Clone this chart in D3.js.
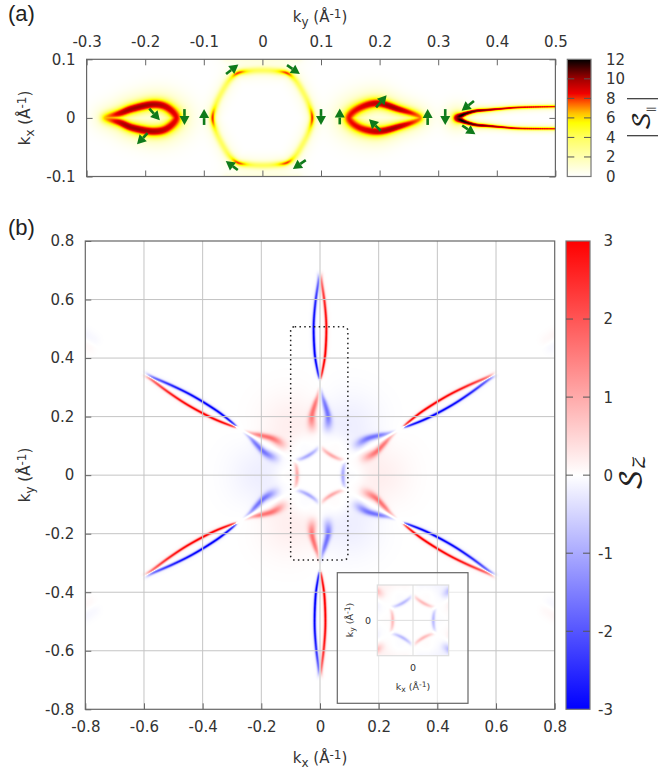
<!DOCTYPE html>
<html>
<head>
<meta charset="utf-8">
<script src="https://cdn.jsdelivr.net/npm/d3@7"></script>
<style>
  html, body { margin: 0; padding: 0; background: #fff; }
  svg { display: block; }
  text { font-family: "DejaVu Sans", sans-serif; font-size: 15px; fill: #333; }
  image { filter: blur(0.5px); }
  .panel { font-family: "Liberation Sans", sans-serif; font-size: 22px; fill: #222; }
  .axis path, .axis line { stroke: #666; }
  .axis text { font-size: 15px; fill: #333; }
  .axis .domain { stroke: none; }
</style>
</head>
<body>
<svg id="chart" width="658" height="772"></svg>
<script>
// tick labels
var aKyTicks = [-0.3, -0.2, -0.1, 0, 0.1, 0.2, 0.3, 0.4, 0.5];
var aKxTicks = [-0.1, 0, 0.1];
var aBarTicks = [0, 2, 4, 6, 8, 10, 12];
var bTicks = [-0.8, -0.6, -0.4, -0.2, 0, 0.2, 0.4, 0.6, 0.8];
var bBarTicks = [-3, -2, -1, 0, 1, 2, 3];

// colour bars
var aStops = [0, 2, 4, 5.5, 6.5, 7.5, 8.5, 10, 11, 12];
var aColors = ["#ffffff", "#ffffb0", "#ffff60", "#ffff00", "#ffc000", "#ff6000", "#f00000", "#a00000", "#500000", "#000000"];
var bStops = [-3, 0, 3];
var bColors = ["#0000ff", "#ffffff", "#ff0000"];

// (a) ridges of |S|: [ky, kx, value, width]
var aLoopLeft = [[-0.268, 0, 6.5, .006], [-0.243, .008, 9.2, .0065], [-0.221, .016, 10, .0068], [-0.187, .023, 9.8, .0072], [-0.163, .018, 9.2, .0078], [-0.147, 0, 8.6, .0085],
  [-0.163, -.018, 9.2, .0078], [-0.187, -.023, 9.8, .0072], [-0.221, -.017, 10, .0068], [-0.243, -.008, 9.4, .0065]];
var aLoopRight = [[.148, 0, 8.4, .0085], [.164, .016, 8.7, .008], [.195, .025, 9.4, .0072], [.229, .016, 9.8, .006], [.269, 0, 7.2, .0058],
  [.229, -.016, 9.8, .006], [.195, -.023, 9.4, .0072], [.164, -.016, 8.7, .008]];
var aWedge = [[.5, .0193, 8.4, .0019], [.44, .018, 9, .002], [.406, .0155, 9.6, .0021], [.383, .0135, 10.4, .0023], [.365, .012, 10.8, .0026], [.349, .008, 11.5, .003], [.339, .004, 12, .004], [.332, 0, 10, .006],
  [.339, -.004, 12, .004], [.349, -.008, 11.5, .003], [.365, -.012, 10.8, .0026], [.383, -.0135, 10.4, .0023], [.406, -.0155, 9.6, .0021], [.44, -.018, 9, .002], [.5, -.0185, 8.4, .0019]];
var aHexagon = [[-.085, 0, 8, .0032], [-.079, .024, 4.6, .004], [-.067, .048, 4, .0042], [-.055, .066, 4.8, .004], [-.0415, .0766, 7.8, .0032], [-.021, .08, 4.6, .004], [0, .081, 4, .0042], [.021, .08, 4.6, .004], [.0415, .0766, 7.8, .0032], [.055, .066, 4.8, .004], [.067, .048, 4, .0042], [.079, .024, 4.6, .004],
  [.085, 0, 8, .0032], [.079, -.024, 4.6, .004], [.067, -.048, 4, .0042], [.055, -.066, 4.8, .004], [.0415, -.0766, 7.8, .0032], [.021, -.08, 4.6, .004], [0, -.081, 4, .0042], [-.021, -.08, 4.6, .004], [-.0415, -.0766, 7.8, .0032], [-.055, -.066, 4.8, .004], [-.067, -.048, 4, .0042], [-.079, -.024, 4.6, .004]];
var aTopGlow = [[-.06, .104, 1, .006], [0, .106, 1.2, .006], [.06, .104, 1, .006]];
var aBottomGlow = [[-.06, -.104, 1, .006], [0, -.106, 1.2, .006], [.06, -.104, 1, .006]];

// (a) green arrows
var arrowTailKy = [-.193, -.196, -.133, -.0995, -.062, .042, .1, -.042, .074, .132, .194, .202, .282, .312, .361, .341];
var arrowTailKx = [.016, -.026, .015, -.012, .075, .09, .015, -.089, -.072, -.011, .018, -.022, -.012, .015, .029, -.013];
var arrowHeadKy = [-.175, -.214, -.133, -.0995, -.041, .064, .1, -.0625, .052, .132, .212, .182, .282, .312, .34, .3635];
var arrowHeadKx = [-.004, -.045, -.012, .015, .091, .075, -.012, -.0735, -.087, .016, .0386, -.0024, .015, -.012, .012, -.028];

// (b) one arm per direction. lens and lobe are [distance from centre, offset from arm, value, width]
var armAngles = [90, 30, -30, -90, -150, 150];
var armLensSign = [-1, 1, -1, 1, -1, 1];
var armLensBulge = [1, .82, .82, .85, .82, .82];
var lensPoints = [[.69, .002, .4, .006], [.667, .0045, 1.5, .004], [.587, .016, 2.6, .0034], [.507, .0216, 3, .0032], [.416, .018, 3.1, .0032], [.354, .008, 2.6, .003], [.325, .001, .9, .003]];
var lobePoints = [[.295, .002, .4, .004], [.27, .008, .95, .005], [.245, .016, 1.5, .0062], [.21, .026, 1.6, .0075], [.185, .028, 1.25, .0095], [.16, .026, .45, .012]];
var farArmAngles = [30, -30, -150, 150];
var farArmSign = [1, -1, -1, 1];
var farPoints = [[.9, .012, .1, .016], [.93, .012, .14, .016]];

// (b) hexagon sides: [along side, distance from centre, value, width]
var sideAngles = [0, 60, 120, 180, 240, 300];
var sideSign = [-1, 1, -1, 1, -1, 1];
var sidePoints = [[-.042, .085, .2, .005], [-.025, .08, .75, .0048], [0, .078, 1, .005], [.025, .08, .75, .0048], [.042, .085, .2, .005]];

// (b) pale wash: [distance from centre, value, width]
var sectorWash = [.19, .22, .08];
var sideWash = [.12, .12, .026];
var nodeLine = [.09, .33, .0032];

// (b) extras
var boxKx = [-0.1, 0.095];
var boxKy = [-0.29, 0.507];
var insetDomain = [-0.137, 0.137];
var insetFade = 0.8;

var svg = d3.select("#chart");
var defs = svg.append("defs");

// ---- scales
var aX = d3.scaleLinear().domain([-0.3, 0.5]).range([86.6, 555.4]);
var aY = d3.scaleLinear().domain([-0.1, 0.1]).range([176.5, 59.3]);
var aBarY = d3.scaleLinear().domain([0, 12]).range([176.5, 59.3]);
var bX = d3.scaleLinear().domain([-0.8, 0.8]).range([85.3, 554.7]);
var bY = d3.scaleLinear().domain([-0.8, 0.8]).range([709.3, 241]);
var bBarY = d3.scaleLinear().domain([-3, 3]).range([709.3, 241]);
var insetX = d3.scaleLinear().domain(insetDomain).range([377.3, 448.7]);
var insetY = d3.scaleLinear().domain(insetDomain).range([655.7, 585]);

var aColor = d3.scaleLinear().domain(aStops).range(aColors).clamp(true);
var bColor = d3.scaleLinear().domain(bStops).range(bColors).clamp(true);

var rad = Math.PI / 180;

// Catmull-Rom through the read points, so the rasters stay smooth
function resample(points, closed, steps) {
  var n = points.length, out = [];
  var get = function(i) {
    return closed ? points[(i + n) % n] : points[Math.max(0, Math.min(n - 1, i))];
  };
  var last = closed ? n : n - 1;
  for (var i = 0; i < last; i++) {
    var p0 = get(i - 1), p1 = get(i), p2 = get(i + 1), p3 = get(i + 2);
    for (var s = 0; s <= steps; s++) {
      var t = s / steps, q = [];
      for (var c = 0; c < 4; c++) {
        q[c] = 0.5 * (2 * p1[c] + (p2[c] - p0[c]) * t + (2 * p0[c] - 5 * p1[c] + 4 * p2[c] - p3[c]) * t * t + (3 * p1[c] - p0[c] - 3 * p2[c] + p3[c]) * t * t * t);
      }
      out.push(q);
    }
  }
  return out;
}

// paints ridges into a signed value grid. one ridge keeps its max, ridges add up
function makeField(xs, ys, ridges, tail) {
  var x0 = Math.round(xs.range()[0]), x1 = Math.round(xs.range()[1]);
  var y0 = Math.round(ys.range()[1]), y1 = Math.round(ys.range()[0]);
  var w = x1 - x0, h = y1 - y0;
  var field = new Float32Array(w * h), tmp = new Float32Array(w * h);
  var pxPerK = Math.abs(xs(1) - xs(0));
  ridges.forEach(function(r) {
    var samples = resample(r.points, r.closed, 60);
    var touched = [];
    samples.forEach(function(p) {
      var sig = Math.max(p[3], .0005) * pxPerK, sig2 = sig * 2.6;
      var cx = xs(p[0]) - x0, cy = ys(p[1]) - y0;
      var reach = Math.ceil(sig2 * 3) + 1;
      var amp = Math.max(p[2], 0);
      for (var iy = Math.max(0, Math.floor(cy - reach)); iy < Math.min(h, cy + reach); iy++) {
        for (var ix = Math.max(0, Math.floor(cx - reach)); ix < Math.min(w, cx + reach); ix++) {
          var dx = ix + .5 - cx, dy = iy + .5 - cy, d2 = dx * dx + dy * dy;
          var v = amp * ((1 - tail) * Math.exp(-d2 / (2 * sig * sig)) + tail * Math.exp(-d2 / (2 * sig2 * sig2)));
          var idx = iy * w + ix;
          if (v > tmp[idx]) {
            if (tmp[idx] === 0) touched.push(idx);
            tmp[idx] = v;
          }
        }
      }
    });
    touched.forEach(function(idx) {
      field[idx] += r.sign * tmp[idx];
      tmp[idx] = 0;
    });
  });
  return {values: field, w: w, h: h, x0: x0, y0: y0};
}

function rasterImage(parent, f, color) {
  var canvas = document.createElement("canvas");
  canvas.width = f.w;
  canvas.height = f.h;
  var ctx = canvas.getContext("2d");
  var img = ctx.createImageData(f.w, f.h);
  // lookup table, d3.color per pixel is slow
  var dom = color.domain(), lo = dom[0], hi = dom[dom.length - 1];
  var lut = d3.range(1025).map(function(i) { return d3.rgb(color(lo + (hi - lo) * i / 1024)); });
  for (var i = 0; i < f.values.length; i++) {
    var k = Math.round((f.values[i] - lo) / (hi - lo) * 1024);
    var c = lut[Math.max(0, Math.min(1024, k))];
    img.data[i * 4] = c.r;
    img.data[i * 4 + 1] = c.g;
    img.data[i * 4 + 2] = c.b;
    img.data[i * 4 + 3] = 255;
  }
  ctx.putImageData(img, 0, 0);
  parent.append("image")
    .attr("x", f.x0).attr("y", f.y0)
    .attr("width", f.w).attr("height", f.h)
    .attr("href", canvas.toDataURL());
}

// ---- (b) ridges in k space
var bRidges = [];
armAngles.forEach(function(a, i) {
  var ux = Math.cos(a * rad), uy = Math.sin(a * rad);
  [1, -1].forEach(function(side) {
    var toK = function(bulge) {
      return function(p) {
        return [p[0] * ux - side * bulge * p[1] * uy, p[0] * uy + side * bulge * p[1] * ux, p[2], p[3]];
      };
    };
    bRidges.push({points: lensPoints.map(toK(armLensBulge[i])), sign: armLensSign[i] * side});
    bRidges.push({points: lobePoints.map(toK(1)), sign: -armLensSign[i] * side});
  });
});
farArmAngles.forEach(function(a, i) {
  var ux = Math.cos(a * rad), uy = Math.sin(a * rad);
  [1, -1].forEach(function(side) {
    bRidges.push({points: farPoints.map(function(p) {
      return [p[0] * ux - side * p[1] * uy, p[0] * uy + side * p[1] * ux, p[2], p[3]];
    }), sign: farArmSign[i] * side});
  });
});
sideAngles.forEach(function(a, i) {
  var ux = Math.cos(a * rad), uy = Math.sin(a * rad);
  bRidges.push({points: sidePoints.map(function(p) {
    return [p[1] * ux - p[0] * uy, p[1] * uy + p[0] * ux, p[2], p[3]];
  }), sign: sideSign[i]});
});

// wash blobs and the white lines along the arms
function finishB(f, xs, ys) {
  for (var iy = 0; iy < f.h; iy++) {
    var ky = ys.invert(iy + .5 + f.y0);
    for (var ix = 0; ix < f.w; ix++) {
      var kx = xs.invert(ix + .5 + f.x0);
      var v = f.values[iy * f.w + ix];
      sideAngles.forEach(function(a, i) {
        var ux = Math.cos(a * rad), uy = Math.sin(a * rad);
        var dx = kx - sectorWash[0] * ux, dy = ky - sectorWash[0] * uy;
        v += -sideSign[i] * sectorWash[1] * Math.exp(-(dx * dx + dy * dy) / (2 * sectorWash[2] * sectorWash[2]));
        dx = kx - sideWash[0] * ux;
        dy = ky - sideWash[0] * uy;
        v += sideSign[i] * sideWash[1] * Math.exp(-(dx * dx + dy * dy) / (2 * sideWash[2] * sideWash[2]));
      });
      armAngles.forEach(function(a) {
        var ux = Math.cos(a * rad), uy = Math.sin(a * rad);
        var along = kx * ux + ky * uy, off = -kx * uy + ky * ux;
        if (along > nodeLine[0] - .004 && along < nodeLine[1]) {
          v *= 1 - Math.exp(-off * off / (2 * nodeLine[2] * nodeLine[2]));
        }
      });
      f.values[iy * f.w + ix] = v;
    }
  }
}

// ---- (a) heat map
var aRidges = [
  {points: aLoopLeft, closed: true, sign: 1},
  {points: aLoopRight, closed: true, sign: 1},
  {points: aWedge, sign: 1},
  {points: aHexagon, closed: true, sign: 1},
  {points: aTopGlow, sign: 1},
  {points: aBottomGlow, sign: 1}
];
var gA = svg.append("g");
rasterImage(gA, makeField(aX, aY, aRidges, .2), aColor);

// ---- (b) heat map
var gB = svg.append("g");
var bField = makeField(bX, bY, bRidges, .05);
finishB(bField, bX, bY);
rasterImage(gB, bField, bColor);

// ---- grid for (b), over the map
var grid = gB.append("g").attr("fill", "none").attr("stroke", "#c4c4c4").attr("stroke-width", 1);
grid.selectAll(".gx").data(bTicks.slice(1, -1)).enter().append("line")
  .attr("x1", function(d) { return bX(d); }).attr("x2", function(d) { return bX(d); })
  .attr("y1", bY(-0.8)).attr("y2", bY(0.8));
grid.selectAll(".gy").data(bTicks.slice(1, -1)).enter().append("line")
  .attr("y1", function(d) { return bY(d); }).attr("y2", function(d) { return bY(d); })
  .attr("x1", bX(-0.8)).attr("x2", bX(0.8));

// ---- axes
var tickText = function(d) { return d === 0 ? "0" : d3.format(".1f")(d).replace("\u2212", "-"); };

function frame(g, xs, ys, stroke) {
  g.append("rect")
    .attr("x", xs.range()[0]).attr("y", ys.range()[1])
    .attr("width", xs.range()[1] - xs.range()[0]).attr("height", ys.range()[0] - ys.range()[1])
    .attr("fill", "none").attr("stroke", stroke).attr("stroke-width", 1.2);
}

svg.append("g").attr("class", "axis").attr("transform", "translate(0," + aY(0.1) + ")")
  .call(d3.axisTop(aX).tickValues(aKyTicks).tickFormat(tickText).tickSize(-6).tickPadding(12));
svg.append("g").attr("class", "axis").attr("transform", "translate(0," + aY(-0.1) + ")")
  .call(d3.axisBottom(aX).tickValues(aKyTicks).tickFormat("").tickSize(-6));
svg.append("g").attr("class", "axis").attr("transform", "translate(" + aX(-0.3) + ",0)")
  .call(d3.axisLeft(aY).tickValues(aKxTicks).tickFormat(tickText).tickSize(-6).tickPadding(11));
svg.append("g").attr("class", "axis").attr("transform", "translate(" + aX(0.5) + ",0)")
  .call(d3.axisRight(aY).tickValues(aKxTicks).tickFormat("").tickSize(-6));
frame(svg, aX, aY, "#666");

svg.append("g").attr("class", "axis").attr("transform", "translate(0," + bY(-0.8) + ")")
  .call(d3.axisBottom(bX).tickValues(bTicks).tickFormat(tickText).tickSize(-6).tickPadding(12));
svg.append("g").attr("class", "axis").attr("transform", "translate(" + bX(-0.8) + ",0)")
  .call(d3.axisLeft(bY).tickValues(bTicks).tickFormat(tickText).tickSize(-6).tickPadding(11));
frame(svg, bX, bY, "#666");

// ---- green arrows
var arrows = svg.append("g");
arrowTailKy.forEach(function(d, i) {
  var x1 = aX(d), y1 = aY(arrowTailKx[i]), x2 = aX(arrowHeadKy[i]), y2 = aY(arrowHeadKx[i]);
  var len = Math.hypot(x2 - x1, y2 - y1), ux = (x2 - x1) / len, uy = (y2 - y1) / len;
  var bx = x2 - ux * 9, by = y2 - uy * 9;
  arrows.append("line")
    .attr("x1", x1).attr("y1", y1).attr("x2", bx).attr("y2", by)
    .attr("stroke", "#0f7a1a").attr("stroke-width", 2.6);
  arrows.append("path")
    .attr("d", d3.line()([[x2, y2], [bx - uy * 5, by + ux * 5], [bx + uy * 5, by - ux * 5]]) + "Z")
    .attr("fill", "#0f7a1a");
});

// ---- colour bars
function colorBar(id, x, width, scale, color, ticks, stroke) {
  var d = scale.domain();
  var grad = defs.append("linearGradient").attr("id", id).attr("x1", 0).attr("x2", 0).attr("y1", 1).attr("y2", 0);
  color.domain().forEach(function(v, i) {
    grad.append("stop").attr("offset", (v - d[0]) / (d[1] - d[0])).attr("stop-color", color.range()[i]);
  });
  svg.append("rect")
    .attr("x", x).attr("y", scale.range()[1])
    .attr("width", width).attr("height", scale.range()[0] - scale.range()[1])
    .attr("fill", "url(#" + id + ")").attr("stroke", stroke).attr("stroke-width", 1.2);
  var inner = ticks.slice(1, -1);
  [[x, x + 7], [x + width - 7, x + width]].forEach(function(seg) {
    svg.selectAll(null).data(inner).enter().append("line")
      .attr("x1", seg[0]).attr("x2", seg[1])
      .attr("y1", function(t) { return scale(t); }).attr("y2", function(t) { return scale(t); })
      .attr("stroke", "#555").attr("stroke-width", 1);
  });
}
colorBar("barA", 567.3, 23.7, aBarY, aColor, aBarTicks, "#777");
colorBar("barB", 566, 24, bBarY, bColor, bBarTicks, "#777");

svg.selectAll(".barLabelA").data(aBarTicks).enter().append("text")
  .attr("x", 606).attr("y", function(d) { return aBarY(d); }).attr("dy", "0.36em")
  .text(function(d) { return d; });
svg.selectAll(".barLabelB").data(bBarTicks).enter().append("text")
  .attr("x", 613).attr("y", function(d) { return bBarY(d); }).attr("dy", "0.36em")
  .attr("text-anchor", "end")
  .text(function(d) { return d; });

// ---- titles
function kLabel(g, sub, size) {
  var small = size * .8;
  var t = g.append("text").attr("text-anchor", "middle").style("font-size", size + "px");
  t.append("tspan").text("k");
  t.append("tspan").attr("dy", size * .25).style("font-size", small + "px").text(sub);
  t.append("tspan").attr("dy", -size * .25).text(" (Å");
  t.append("tspan").attr("dy", -size * .3).style("font-size", small + "px").text("-1");
  t.append("tspan").attr("dy", size * .3).text(")");
  return t;
}
kLabel(svg, "y", 15).attr("transform", "translate(320,22)");
kLabel(svg, "x", 15).attr("transform", "translate(30,118) rotate(-90)");
kLabel(svg, "x", 15).attr("transform", "translate(320,763)");
kLabel(svg, "y", 15).attr("transform", "translate(30,475) rotate(-90)");

svg.append("text").attr("class", "panel").attr("x", 8).attr("y", 21).text("(a)");
svg.append("text").attr("class", "panel").attr("x", 8).attr("y", 235).text("(b)");

// |S||
svg.selectAll(".rule").data([98.7, 135.7]).enter().append("line")
  .attr("x1", 627).attr("x2", 658)
  .attr("y1", function(d) { return d; }).attr("y2", function(d) { return d; })
  .attr("stroke", "#333").attr("stroke-width", 1.2);
var sPar = svg.append("text").attr("transform", "translate(650,131) rotate(-90)")
  .style("font-family", "'DejaVu Math TeX Gyre', 'DejaVu Serif', serif").style("font-size", "25px").style("fill", "#222");
sPar.append("tspan").text("\uD835\uDCAE");
sPar.append("tspan").attr("dy", 4).style("font-size", "11px").text("||");

// S_z
var sZ = svg.append("text").attr("transform", "translate(640,491) rotate(-90)")
  .style("font-family", "'DejaVu Math TeX Gyre', 'DejaVu Serif', serif").style("font-size", "28px").style("fill", "#222");
sZ.append("tspan").text("\uD835\uDCAE");
sZ.append("tspan").attr("dy", 5).style("font-size", "22px").text("\uD835\uDCCF");

// ---- dotted box
svg.append("rect")
  .attr("x", bX(boxKx[0])).attr("y", bY(boxKy[1]))
  .attr("width", bX(boxKx[1]) - bX(boxKx[0])).attr("height", bY(boxKy[0]) - bY(boxKy[1]))
  .attr("rx", 4)
  .attr("fill", "none").attr("stroke", "#222").attr("stroke-width", 1.5).attr("stroke-dasharray", "1.5 3.3");

// ---- inset
var gI = svg.append("g");
gI.append("rect")
  .attr("x", 337.3).attr("y", 572.7).attr("width", 130.7).attr("height", 130.6)
  .attr("fill", "#fff").attr("fill-opacity", .6).attr("stroke", "#666").attr("stroke-width", 1.2);
var iField = makeField(insetX, insetY, bRidges, .05);
finishB(iField, insetX, insetY);
iField.values.forEach(function(v, i) { iField.values[i] = v * insetFade; });
rasterImage(gI, iField, bColor);
gI.append("line").attr("x1", insetX(0)).attr("x2", insetX(0)).attr("y1", insetY.range()[0]).attr("y2", insetY.range()[1]).attr("stroke", "#ddd");
gI.append("line").attr("y1", insetY(0)).attr("y2", insetY(0)).attr("x1", insetX.range()[0]).attr("x2", insetX.range()[1]).attr("stroke", "#ddd");
frame(gI, insetX, insetY, "#ddd");
gI.append("text").attr("x", insetX(0)).attr("y", 671).attr("text-anchor", "middle").style("font-size", "9.5px").text("0");
gI.append("text").attr("x", 371).attr("y", insetY(0)).attr("dy", "0.36em").attr("text-anchor", "end").style("font-size", "9.5px").text("0");
kLabel(gI, "x", 9.5).attr("transform", "translate(413,690)");
kLabel(gI, "y", 9.5).attr("transform", "translate(353,620) rotate(-90)");
</script>
</body>
</html>
